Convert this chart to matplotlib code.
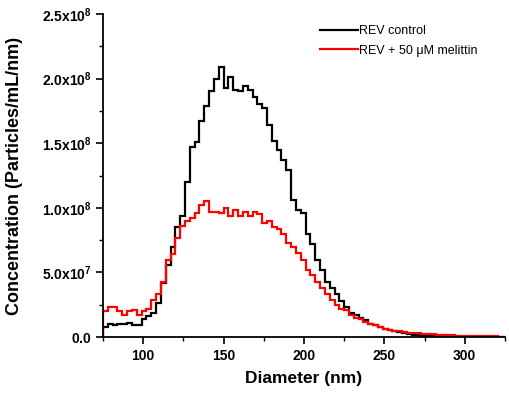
import numpy as np
import matplotlib
matplotlib.use("Agg")
import matplotlib.pyplot as plt
from matplotlib.ticker import MultipleLocator, FuncFormatter

plt.rcParams['font.family'] = ['Liberation Sans', 'DejaVu Sans']
plt.rcParams['mathtext.fontset'] = 'custom'
plt.rcParams['mathtext.bf'] = 'Liberation Sans:bold'
plt.rcParams['mathtext.rm'] = 'Liberation Sans'

# bin edges (nm), 3 nm bins starting at 75 nm
bin_start = 75
bin_width = 3
n_bins = 84
edges = bin_start + bin_width*np.arange(n_bins + 1)

# concentration in units of 1e8 particles/mL/nm
rev_control = [0.08, 0.10, 0.09, 0.10, 0.10, 0.11, 0.09, 0.09, 0.14, 0.16,
               0.19, 0.26, 0.42, 0.56, 0.70, 0.85, 0.94, 1.20, 1.47, 1.51,
               1.67, 1.79, 1.90, 2.00, 2.09, 1.93, 2.01, 1.91, 1.90, 1.94,
               1.91, 1.86, 1.80, 1.77, 1.64, 1.52, 1.45, 1.37, 1.29, 1.06,
               0.98, 0.96, 0.80, 0.72, 0.60, 0.52, 0.43, 0.38, 0.33, 0.28,
               0.23, 0.19, 0.17, 0.15, 0.13, 0.10, 0.09, 0.075, 0.065, 0.055,
               0.045, 0.04, 0.03, 0.022, 0.018, 0.014, 0.012, 0.010, 0.009, 0.008,
               0.007, 0.006, 0.005, 0.004, 0.004, 0.003, 0.003, 0.002, 0.002, 0.002,
               0.001, 0.001, 0.001, 0.001]

rev_melittin = [0.20, 0.235, 0.23, 0.20, 0.17, 0.20, 0.21, 0.17, 0.20, 0.22,
                0.29, 0.33, 0.43, 0.60, 0.64, 0.77, 0.86, 0.90, 0.92, 0.96,
                1.02, 1.05, 0.97, 0.97, 0.96, 1.00, 0.94, 0.98, 0.94, 0.97,
                0.94, 0.97, 0.95, 0.88, 0.90, 0.85, 0.84, 0.80, 0.73, 0.70,
                0.65, 0.60, 0.52, 0.48, 0.43, 0.38, 0.33, 0.29, 0.25, 0.22,
                0.21, 0.17, 0.15, 0.14, 0.12, 0.10, 0.09, 0.075, 0.065, 0.055,
                0.05, 0.045, 0.04, 0.035, 0.032, 0.03, 0.027, 0.024, 0.021, 0.019,
                0.017, 0.015, 0.013, 0.012, 0.011, 0.010, 0.009, 0.008, 0.007, 0.006,
                0.005, 0.005, 0.004, 0.003]

scale = 1e8
labels = ["REV control", "REV + 50 \u03bcM melittin"]

fig = plt.figure(figsize=(5.1, 3.98), dpi=100)
ax = fig.add_axes([0.202, 0.153, 0.788, 0.812])

ax.stairs(np.array(rev_control)*scale, edges, color='black', lw=1.6, label=labels[0])
ax.stairs(np.array(rev_melittin)*scale, edges, color='red', lw=1.6, label=labels[1])

ax.set_xlim(75, 325)
ax.set_ylim(0, 2.5e8)
ax.xaxis.set_major_locator(MultipleLocator(50))
ax.xaxis.set_minor_locator(MultipleLocator(25))
ax.yaxis.set_major_locator(MultipleLocator(5e7))
ax.yaxis.set_minor_locator(MultipleLocator(2.5e7))


def yfmt(v, pos):
    if v <= 0:
        return r'$\mathbf{0.0}$'
    e = int(np.floor(np.log10(v)))
    m = v/10**e
    return r'$\mathbf{%.1fx10^{%d}}$' % (m, e)


ax.yaxis.set_major_formatter(FuncFormatter(yfmt))
for t in ax.get_xticklabels():
    t.set_fontweight('bold')

ax.tick_params(which='major', direction='out', length=5, width=1.2, labelsize=10)
ax.tick_params(which='minor', direction='out', length=3, width=1.0)
ax.spines['top'].set_visible(False)
ax.spines['right'].set_visible(False)
ax.spines['left'].set_linewidth(1.3)
ax.spines['bottom'].set_linewidth(1.3)

ax.set_xlabel('Diameter (nm)', fontsize=12.5, fontweight='bold')
ax.set_ylabel('Concentration (Particles/mL/nm)', fontsize=13, fontweight='bold')
ax.xaxis.set_label_coords(0.5, -0.105)
ax.yaxis.set_label_coords(-0.2, 0.5)

leg = ax.legend(loc='upper right', frameon=False, fontsize=9, handlelength=3.0,
                handletextpad=0.1, labelspacing=0.6, bbox_to_anchor=(0.96, 1.0))

fig.savefig('out.png', dpi=100)
